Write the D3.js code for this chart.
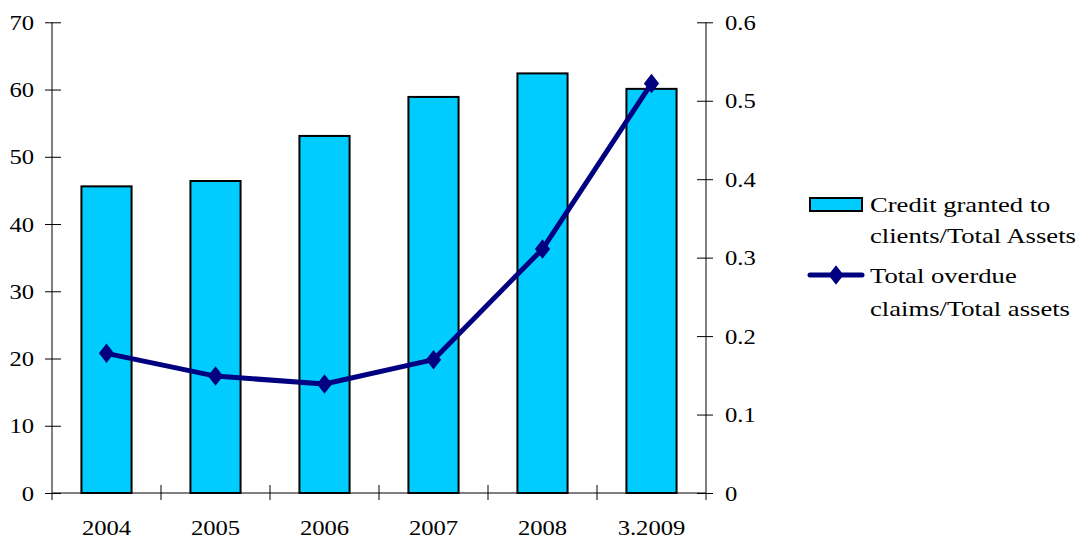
<!DOCTYPE html>
<html>
<head>
<meta charset="utf-8">
<script src="https://cdn.jsdelivr.net/npm/d3@7"></script>
<style>
  html, body { margin: 0; padding: 0; background: #fff; }
</style>
</head>
<body>
<svg id="chart" width="1085" height="540"></svg>
<script>
// Categories and series
const categories = ["2004", "2005", "2006", "2007", "2008", "3.2009"];
const creditToAssets = [45.6, 46.4, 53.1, 58.9, 62.4, 60.1];
const overdueToAssets = [0.178, 0.149, 0.139, 0.170, 0.311, 0.522];
const leftTicks = [0, 10, 20, 30, 40, 50, 60, 70];
const rightTicks = [0, 0.1, 0.2, 0.3, 0.4, 0.5, 0.6];
const legendLabels = [
  ["Credit granted to", "clients/Total Assets"],
  ["Total overdue", "claims/Total assets"]
];

const FONT = '"Liberation Serif", "Times New Roman", Times, serif';
const FONT_SIZE = "22px";

const svg = d3.select("#chart");
const plot = { left: 52, right: 706, top: 22.3, bottom: 493 };

const x = d3.scaleBand().domain(categories).range([plot.left, plot.right]).paddingInner(0.54).paddingOuter(0.27);
const xCat = d3.scaleBand().domain(categories).range([plot.left, plot.right]);
const yL = d3.scaleLinear().domain([0, 70]).range([plot.bottom, plot.top]);
const yR = d3.scaleLinear().domain([0, 0.6]).range([plot.bottom, plot.top]);

// Serif text, widened a little horizontally
function styleText(sel, stretch) {
  sel.style("font-family", FONT).style("font-size", FONT_SIZE).attr("fill", "#000")
    .each(function () {
      const w = this.getComputedTextLength();
      d3.select(this).attr("textLength", w * stretch).attr("lengthAdjust", "spacingAndGlyphs");
    });
}

// Bars
svg.append("g").selectAll("rect").data(categories).join("rect")
  .attr("x", d => x(d))
  .attr("width", x.bandwidth())
  .attr("y", (d, i) => yL(creditToAssets[i]))
  .attr("height", (d, i) => plot.bottom - yL(creditToAssets[i]))
  .attr("fill", "#00CCFF")
  .attr("stroke", "#000")
  .attr("stroke-width", 2);

// Left axis
const gL = svg.append("g").attr("transform", `translate(${plot.left},0)`)
  .call(d3.axisLeft(yL).tickValues(leftTicks).tickSize(7).tickPadding(11).tickSizeOuter(0));
gL.select(".domain").remove();
gL.selectAll(".tick line").attr("x2", 9).attr("x1", -7).attr("stroke", "#000");
gL.append("line").attr("x1", 0).attr("x2", 0).attr("y1", plot.top).attr("y2", plot.bottom + 7).attr("stroke", "#000");
styleText(gL.selectAll("text"), 1.12);

// Right axis
const gR = svg.append("g").attr("transform", `translate(${plot.right},0)`)
  .call(d3.axisRight(yR).tickValues(rightTicks).tickFormat(d => d === 0 ? "0" : d3.format(".1f")(d)).tickSize(7).tickPadding(12).tickSizeOuter(0));
gR.select(".domain").remove();
gR.selectAll(".tick line").attr("x1", -9).attr("x2", 7).attr("stroke", "#000");
gR.append("line").attr("x1", 0).attr("x2", 0).attr("y1", plot.top).attr("y2", plot.bottom + 7).attr("stroke", "#000");
styleText(gR.selectAll("text"), 1.12);

// Category axis
const gX = svg.append("g").attr("transform", `translate(0,${plot.bottom})`)
  .call(d3.axisBottom(xCat).tickSize(0).tickPadding(26).tickSizeOuter(0));
gX.select(".domain").attr("stroke", "#000").attr("d", `M${plot.left},0H${plot.right}`);
styleText(gX.selectAll("text"), 1.12);
gX.selectAll(".sep").data(categories.slice(1)).join("line")
  .attr("class", "sep")
  .attr("x1", d => xCat(d)).attr("x2", d => xCat(d))
  .attr("y1", -8).attr("y2", 7)
  .attr("stroke", "#000");

// Ratio line
const cx = d => xCat(d) + xCat.bandwidth() / 2;
const line = d3.line().x((d, i) => cx(categories[i])).y(d => yR(d));
svg.append("path").datum(overdueToAssets)
  .attr("d", line)
  .attr("fill", "none")
  .attr("stroke", "#000080")
  .attr("stroke-width", 5)
  .attr("stroke-linejoin", "round");

const diamond = d3.symbol().type(d3.symbolDiamond).size(110);
svg.append("g").selectAll("path").data(overdueToAssets).join("path")
  .attr("d", diamond)
  .attr("transform", (d, i) => `translate(${cx(categories[i])},${yR(d)}) scale(1.35,1)`)
  .attr("fill", "#000080");

// Legend
const lg = svg.append("g");
lg.append("rect").attr("x", 810).attr("y", 198).attr("width", 52).attr("height", 13)
  .attr("fill", "#00CCFF").attr("stroke", "#000").attr("stroke-width", 2);
lg.append("line").attr("x1", 810).attr("x2", 862).attr("y1", 275).attr("y2", 275)
  .attr("stroke", "#000080").attr("stroke-width", 5).attr("stroke-linecap", "round");
lg.append("path").attr("d", diamond).attr("transform", "translate(836,275) scale(1.35,1)").attr("fill", "#000080");

const legendRows = [[212, 243], [283, 316]];
legendLabels.forEach((lines, k) => {
  lines.forEach((t, j) => {
    lg.append("text").attr("x", 870).attr("y", legendRows[k][j]).text(t);
  });
});
styleText(lg.selectAll("text"), 1.21);
</script>
</body>
</html>
